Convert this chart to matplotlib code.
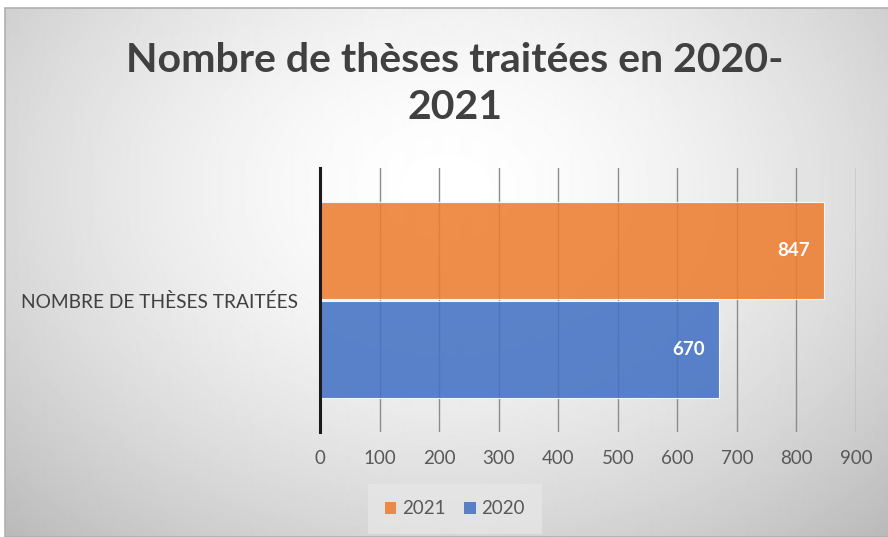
import numpy as np
import matplotlib.pyplot as plt
from matplotlib.patches import Patch

categories = ["NOMBRE DE THÈSES TRAITÉES"]
series_names = ["2021", "2020"]
values_2021 = [847]
values_2020 = [670]
colors = {"2021": "#ED7D31", "2020": "#4472C4"}
xticks = list(range(0, 1000, 100))

FONT = "Lato"

fig = plt.figure(figsize=(8.88, 5.37), dpi=100)

# radial grey background
bg = fig.add_axes([5 / 888, 0, 1 - 5 / 888, 1 - 8 / 537], zorder=-10)
yy, xx = np.mgrid[0:529, 0:883]
r = np.sqrt(((xx - 440) / 560.0) ** 2 + ((yy - 180) / 420.0) ** 2)
shade = 1.0 - 0.22 * np.clip(r, 0, 1.3) ** 1.6
bg.imshow(shade, cmap="gray", vmin=0, vmax=1, aspect="auto", interpolation="bilinear")
bg.axis("off")
fig.patches.append(plt.Rectangle((5 / 888, 0), 1, 1 - 8 / 537, transform=fig.transFigure,
                                 fill=False, edgecolor="#b0b0b0", linewidth=1.2))

ax = fig.add_axes([320 / 888, 1 - 432 / 537, 536 / 888, 264 / 537])
ax.patch.set_alpha(0)

h = 0.367
y = np.arange(len(categories))
b1 = ax.barh(y + 0.188, values_2021, height=h, color=colors["2021"], alpha=0.88,
             edgecolor="white", linewidth=0.8, zorder=3)
b2 = ax.barh(y - 0.188, values_2020, height=h, color=colors["2020"], alpha=0.88,
             edgecolor="white", linewidth=0.8, zorder=3)

for bars in (b1, b2):
    for rect in bars:
        w = rect.get_width()
        ax.text(w - 24, rect.get_y() + rect.get_height() / 2, f"{w:.0f}",
                ha="right", va="center", color="white", fontsize=13.5,
                fontweight="bold", family=FONT, zorder=4)

ax.set_xlim(0, 900)
ax.set_ylim(-0.5, 0.5)
ax.set_xticks(xticks)
ax.set_xticklabels([str(t) for t in xticks], fontsize=13.5, color="#595959", family=FONT)
ax.tick_params(axis="x", length=0, pad=13)
ax.set_yticks(y)
ax.set_yticklabels(categories, fontsize=13.8, color="#404040", family=FONT)
ax.tick_params(axis="y", length=0, pad=16)
ax.grid(axis="x", color="#8c8c8c", linewidth=1.0, zorder=1)
ax.set_axisbelow(True)
for s in ("top", "right", "bottom"):
    ax.spines[s].set_visible(False)
ax.spines["left"].set_color("#1a1a1a")
ax.spines["left"].set_linewidth(2.2)
ax.spines["left"].set_zorder(5)

fig.text(0.512, 1 - 60 / 537, "Nombre de thèses traitées en 2020-", ha="center", va="center",
         fontsize=29.5, fontweight="bold", color="#404040", family=FONT)
fig.text(0.512, 1 - 107 / 537, "2021", ha="center", va="center",
         fontsize=29.5, fontweight="bold", color="#404040", family=FONT)

handles = [Patch(facecolor=colors[n], alpha=0.88) for n in series_names]
leg = fig.legend(handles, series_names, loc="center", bbox_to_anchor=(455 / 888, 1 - 509 / 537),
                 ncol=2, frameon=True, handlelength=0.6, handleheight=0.6,
                 handletextpad=0.3, columnspacing=1.0, borderpad=0.6,
                 prop={"family": FONT, "size": 13.5})
leg.get_frame().set_facecolor("#e6e6e6")
leg.get_frame().set_edgecolor("none")
leg.get_frame().set_boxstyle("square")
for t in leg.get_texts():
    t.set_color("#595959")

fig.savefig("out.png", dpi=100)
